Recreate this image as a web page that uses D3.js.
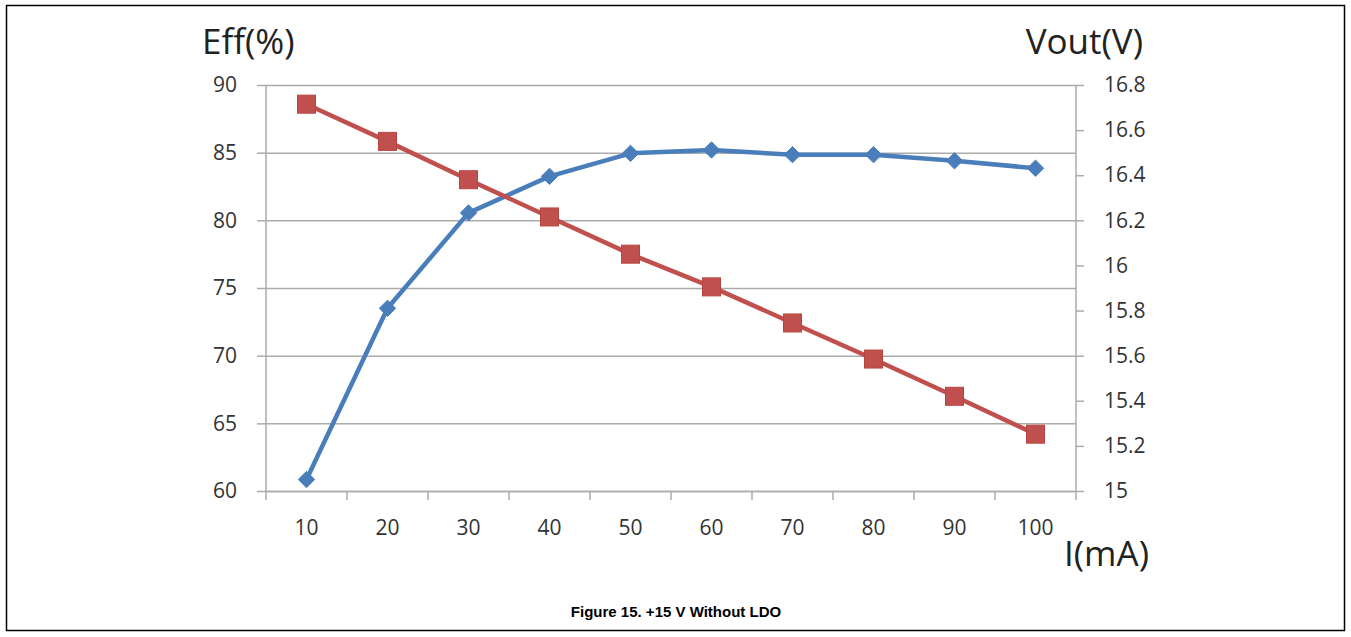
<!DOCTYPE html>
<html>
<head>
<meta charset="utf-8">
<script src="https://cdn.jsdelivr.net/npm/d3@7"></script>
<style>
  html, body { margin: 0; padding: 0; background: #fff; }
  svg { display: block; }
</style>
</head>
<body>
<svg id="chart" width="1351" height="637"></svg>
<script>
const categories = [10, 20, 30, 40, 50, 60, 70, 80, 90, 100];
const effValues = [60.85, 73.5, 80.55, 83.25, 84.95, 85.2, 84.85, 84.85, 84.4, 83.85];
const voutValues = [16.715, 16.55, 16.38, 16.215, 16.05, 15.905, 15.745, 15.585, 15.42, 15.252];
const leftTicks = [60, 65, 70, 75, 80, 85, 90];
const rightTicks = [15, 15.2, 15.4, 15.6, 15.8, 16, 16.2, 16.4, 16.6, 16.8];
const rightTickLabels = ["15", "15.2", "15.4", "15.6", "15.8", "16", "16.2", "16.4", "16.6", "16.8"];
const leftTitle = "Eff(%)";
const rightTitle = "Vout(V)";
const xTitle = "I(mA)";
const caption = "Figure 15. +15 V Without LDO";

const svg = d3.select("#chart");
const W = 1351, H = 637;
const plot = { left: 266, right: 1076, top: 85, bottom: 491 };
const textColor = "#333333";
const gridColor = "#ababab";
const font = "'Open Sans', 'Liberation Sans', sans-serif";
const tickFont = "21px";
const titleFont = "35px";

// Outer frame
svg.append("rect").attr("x", 6.5).attr("y", 5.5).attr("width", W - 13).attr("height", H - 12)
  .attr("fill", "none").attr("stroke", "#000").attr("stroke-width", 1.5);

const x = d3.scaleBand().domain(categories).range([plot.left, plot.right]).padding(0);
const yL = d3.scaleLinear().domain([60, 90]).range([plot.bottom, plot.top]);
const yR = d3.scaleLinear().domain([15, 16.8]).range([plot.bottom, plot.top]);

// Gridlines (left-axis ticks, extended outward as tick marks)
const gLeft = svg.append("g").attr("transform", `translate(${plot.left},0)`)
  .call(d3.axisLeft(yL).tickValues(leftTicks).tickSize(9).tickPadding(20).tickFormat(d3.format("d")));
gLeft.select(".domain").remove();
gLeft.selectAll(".tick line").attr("stroke", gridColor).attr("stroke-width", 1.5);
gLeft.selectAll(".tick").append("line")
  .attr("x1", 0).attr("x2", plot.right - plot.left)
  .attr("stroke", gridColor).attr("stroke-width", 1.5);
gLeft.selectAll(".tick text").attr("fill", textColor).style("font-family", font).style("font-size", tickFont);

// Left axis line
svg.append("line").attr("x1", plot.left).attr("x2", plot.left).attr("y1", plot.top).attr("y2", plot.bottom + 9)
  .attr("stroke", gridColor).attr("stroke-width", 1.5);

// Right axis
const gRight = svg.append("g").attr("transform", `translate(${plot.right},0)`)
  .call(d3.axisRight(yR).tickValues(rightTicks).tickSize(8).tickPadding(20)
    .tickFormat((d, i) => rightTickLabels[i]));
gRight.select(".domain").attr("stroke", gridColor).attr("stroke-width", 1.5).attr("d", `M0,${plot.top}V${plot.bottom}`);
gRight.selectAll(".tick line").attr("stroke", gridColor).attr("stroke-width", 1.5);
gRight.selectAll(".tick text").attr("fill", textColor).style("font-family", font).style("font-size", tickFont);

// Bottom axis
const gBottom = svg.append("g").attr("transform", `translate(0,${plot.bottom})`)
  .call(d3.axisBottom(x).tickSize(0).tickPadding(29));
gBottom.select(".domain").attr("stroke", gridColor).attr("stroke-width", 1.5);
gBottom.selectAll(".tick text").attr("fill", textColor).style("font-family", font).style("font-size", tickFont);
// category boundary ticks
const bounds = categories.slice(1).map(c => x(c)).concat([plot.right]);
svg.append("g").selectAll("line").data(bounds).join("line")
  .attr("x1", d => d).attr("x2", d => d).attr("y1", plot.bottom).attr("y2", plot.bottom + 9)
  .attr("stroke", gridColor).attr("stroke-width", 1.5);

const cx = c => x(c) + x.bandwidth() / 2;

// Blue series (Eff)
const blue = "#4a7ebb";
svg.append("path").datum(effValues)
  .attr("fill", "none").attr("stroke", blue).attr("stroke-width", 4.5).attr("stroke-linejoin", "round")
  .attr("d", d3.line().x((d, i) => cx(categories[i])).y(d => yL(d)));
svg.append("g").selectAll("path").data(effValues).join("path")
  .attr("d", d3.symbol().type(d3.symbolDiamond2).size(170))
  .attr("transform", (d, i) => `translate(${cx(categories[i])},${yL(d)})`)
  .attr("fill", blue).attr("stroke", blue).attr("stroke-width", 1);

// Red series (Vout)
const red = "#c0504d";
svg.append("path").datum(voutValues)
  .attr("fill", "none").attr("stroke", red).attr("stroke-width", 4.5).attr("stroke-linejoin", "round")
  .attr("d", d3.line().x((d, i) => cx(categories[i])).y(d => yR(d)));
svg.append("g").selectAll("rect").data(voutValues).join("rect")
  .attr("x", (d, i) => cx(categories[i]) - 9).attr("y", d => yR(d) - 9)
  .attr("width", 18).attr("height", 18)
  .attr("fill", red).attr("stroke", "#b84440").attr("stroke-width", 1);

// Titles
svg.append("text").attr("x", 202).attr("y", 54).text(leftTitle)
  .attr("fill", "#222").style("font-family", font).style("font-size", titleFont);
svg.append("text").attr("x", 1143).attr("y", 54).attr("text-anchor", "end").text(rightTitle)
  .attr("fill", "#222").style("font-family", font).style("font-size", titleFont);
svg.append("text").attr("x", 1064).attr("y", 566).text(xTitle)
  .attr("fill", "#222").style("font-family", font).style("font-size", titleFont);

// Caption
svg.append("text").attr("x", 676).attr("y", 617).attr("text-anchor", "middle").text(caption)
  .attr("fill", "#000").style("font-family", "'Liberation Sans', Arial, sans-serif")
  .style("font-size", "15px").style("font-weight", "bold");
</script>
</body>
</html>
